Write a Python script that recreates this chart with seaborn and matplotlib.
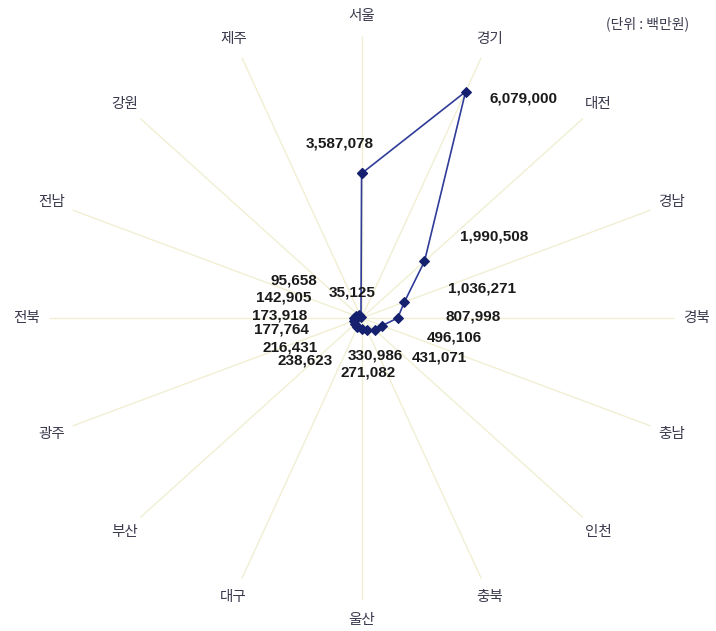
import numpy as np
import matplotlib
matplotlib.use("Agg")
import matplotlib.pyplot as plt
import seaborn as sns

# 지역 (clockwise from top) and values (단위: 백만원)
regions = ['서울', '경기', '대전', '경남', '경북', '충남', '인천', '충북',
           '울산', '대구', '부산', '광주', '전북', '전남', '강원', '제주']
values = [3587078, 6079000, 1990508, 1036271, 807998, 496106, 431071, 330986,
          271082, 238623, 216431, 177764, 173918, 142905, 95658, 35125]

# where each value label sits, in pixels from its point
label_offsets = [(-22, 30), (58, -7), (70, 25), (78, 14), (75, 2), (72, -12),
                 (64, -27), (8, -25), (7, -44), (-52, -34), (-65, -23),
                 (-73, -9), (-74, 3), (-72, 18), (-65, 35), (-9, 24)]

R_MAX = 7000000

sns.set_theme(style="white")
plt.rcParams['font.family'] = ['Noto Sans CJK KR', 'DejaVu Sans']

fig = plt.figure(figsize=(7.16, 6.31), dpi=100)
ax = fig.add_axes([0.068, 0.049, 0.874, 0.894], projection='polar')
ax.set_aspect('auto')
ax.set_theta_zero_location('N')
ax.set_theta_direction(-1)

theta = np.arange(len(regions)) * 2 * np.pi / len(regions)

# spokes
ax.vlines(theta, 0, R_MAX, color='#f1efd3', lw=1.0, zorder=1)

# closed line
th_c = np.append(theta, theta[0])
v_c = np.append(values, values[0])
sns.lineplot(x=th_c, y=v_c, sort=False, estimator=None, ax=ax,
             color='#2f3c98', lw=1.2, marker='D', markersize=5,
             markerfacecolor='#15206e', markeredgecolor='#15206e', zorder=3)

for t, v, (dx, dy) in zip(theta, values, label_offsets):
    ax.annotate(f"{v:,}", xy=(t, v), xytext=(dx, dy), textcoords='offset pixels',
                ha='center', va='center', fontsize=11, fontweight='bold',
                family=['Liberation Sans'], color='#1a1a1a', zorder=4)

for t, name in zip(theta, regions):
    ax.text(t, 7.5e6, name, ha='center', va='center', fontsize=10.5,
            color='#3a3a4e')

ax.set_ylim(0, R_MAX)
ax.set_xticks([])
ax.set_yticks([])
ax.grid(False)
ax.spines['polar'].set_visible(False)
ax.set_xlabel('')
ax.set_ylabel('')
ax.set_facecolor('none')

fig.text(0.905, 0.962, '(단위 : 백만원)', ha='center', va='center',
         fontsize=10, color='#3a3a4e')

fig.savefig('out.png', dpi=100, facecolor='white')
